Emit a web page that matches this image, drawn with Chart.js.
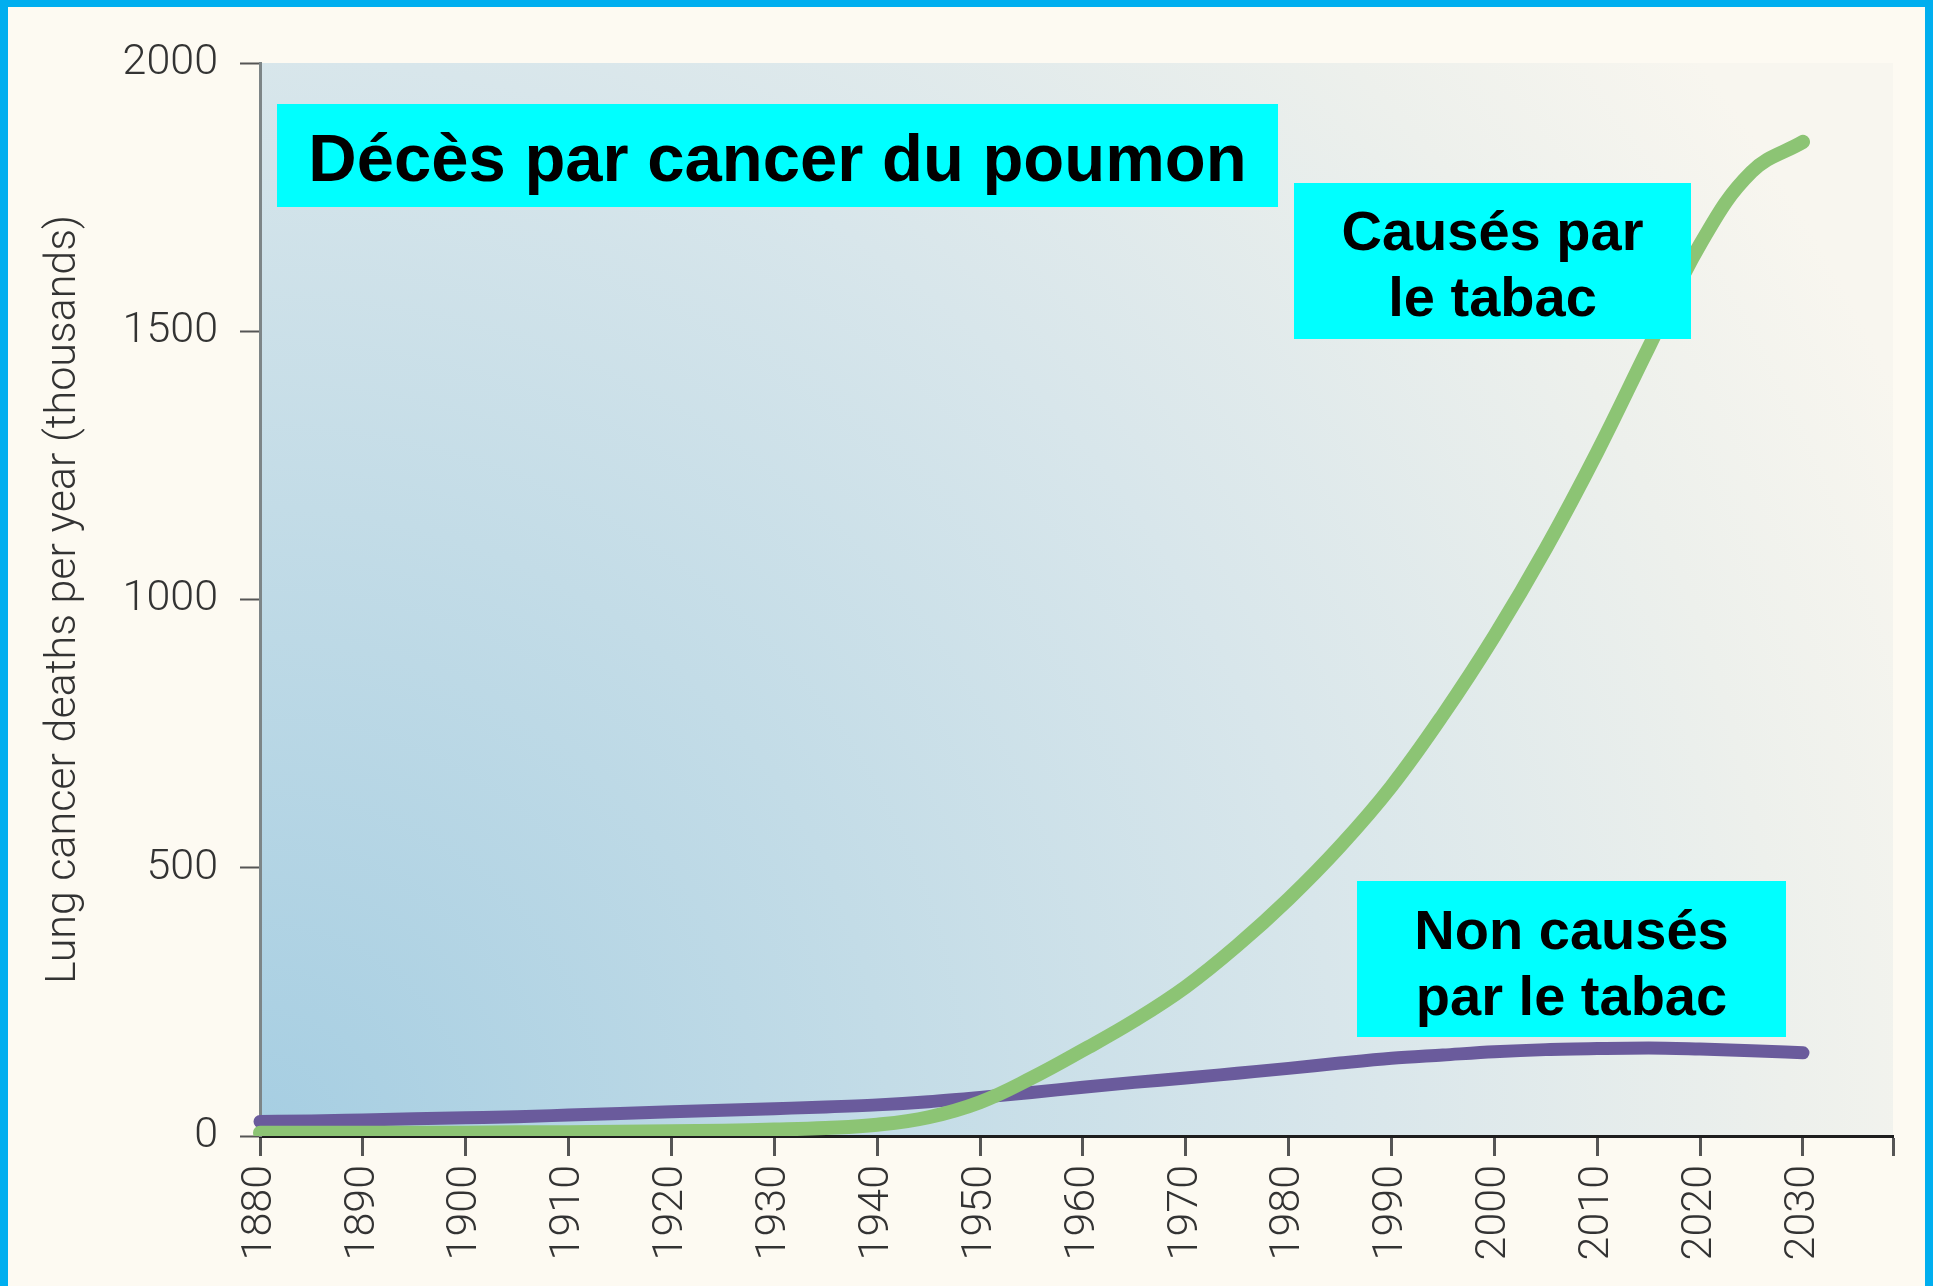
<!DOCTYPE html>
<html>
<head>
<meta charset="utf-8">
<script src="https://cdn.jsdelivr.net/npm/chart.js@4.4.1/dist/chart.umd.min.js"></script>
<style>
html,body{margin:0;padding:0;background:#fdfaf2;overflow:hidden}
#wrap{position:relative;width:1933px;height:1286px}
canvas{display:block}
</style>
</head>
<body>
<div id="wrap"><canvas id="c" width="1933" height="1286"></canvas></div>
<script>
// ---- data (thousands of deaths per year) ----
const years = [1880,1885,1890,1895,1900,1905,1910,1915,1920,1925,1930,1935,1940,1945,1950,1955,1960,1965,1970,1975,1980,1985,1990,1995,2000,2005,2010,2015,2020,2025,2030];
const tobaccoDeaths = [6,6,6,6,6,7,7,8,9,10,12,15,21,35,63,108,160,215,278,355,442,540,652,785,932,1095,1275,1470,1662,1797,1853];
const nonTobaccoDeaths = [27,28,30,32,34,36,39,42,45,48,51,54,58,64,72,81,91,100,108,117,126,136,145,151,157,161,163,164,162,159,155];
const yTickValues = [0,500,1000,1500,2000];
const xTickYears = [1880,1890,1900,1910,1920,1930,1940,1950,1960,1970,1980,1990,2000,2010,2020,2030];
const xAxisEnd = 2038.75;
const chartTitle = 'Décès par cancer du poumon';
const tobaccoLabel = ['Causés par','le tabac'];
const nonTobaccoLabel = ['Non causés','par le tabac'];
const yAxisTitle = 'Lung cancer deaths per year (thousands)';

const toPoints = (xs, ys) => xs.map((x, i) => ({x: x, y: ys[i]}));

const axisFont = {family: 'Roboto, "Liberation Sans", sans-serif', size: 43, weight: 300};

const backgroundPlugin = {
  id: 'bg',
  beforeDraw(chart) {
    const ctx = chart.ctx, W = chart.width, H = chart.height, ca = chart.chartArea;
    ctx.save();
    ctx.fillStyle = '#fdfaf2';
    ctx.fillRect(0, 0, W, H);
    // plot area gradient
    const r = Math.hypot(ca.right - ca.left, ca.bottom - ca.top) * 0.92;
    const g = ctx.createRadialGradient(ca.left, ca.bottom, 0, ca.left, ca.bottom, r);
    g.addColorStop(0, '#a6cee2');
    g.addColorStop(0.35, '#c3dce7');
    g.addColorStop(0.6, '#d8e6eb');
    g.addColorStop(0.85, '#edf0ec');
    g.addColorStop(1, '#f8f6ef');
    ctx.fillStyle = g;
    ctx.fillRect(ca.left, ca.top, ca.right - ca.left, ca.bottom - ca.top);
    // frame
    ctx.fillStyle = '#00aeef';
    ctx.fillRect(0, 0, W, 7);
    ctx.fillRect(0, 0, 8, H);
    ctx.fillRect(W - 8, 0, 8, H);
    ctx.restore();
  }
};

function drawBox(ctx, box) {
  ctx.save();
  ctx.fillStyle = '#00ffff';
  ctx.fillRect(box.x, box.y, box.w, box.h);
  ctx.fillStyle = '#000';
  ctx.font = 'bold ' + box.size + 'px "Liberation Sans", Arial, sans-serif';
  ctx.textAlign = 'center';
  ctx.textBaseline = 'alphabetic';
  box.lines.forEach((t, i) => ctx.fillText(t, box.x + box.w / 2, box.base + i * box.lh));
  ctx.restore();
}

const labelPlugin = {
  id: 'labels',
  afterDraw(chart) {
    const ctx = chart.ctx;
    drawBox(ctx, {x: 277, y: 104, w: 1001, h: 103, size: 67, lines: [chartTitle], base: 181, lh: 0});
    drawBox(ctx, {x: 1294, y: 183, w: 397, h: 156, size: 56, lines: tobaccoLabel, base: 250, lh: 66});
    drawBox(ctx, {x: 1357, y: 881, w: 429, h: 156, size: 56, lines: nonTobaccoLabel, base: 949, lh: 66});
  }
};

new Chart(document.getElementById('c'), {
  type: 'line',
  data: {
    datasets: [
      {
        label: tobaccoLabel.join(' '),
        data: toPoints(years, tobaccoDeaths),
        borderColor: '#8cc474',
        borderWidth: 14,
        pointRadius: 0,
        tension: 0.4,
        borderCapStyle: 'round',
        borderJoinStyle: 'round',
        clip: {left: 10, top: 10, right: 10, bottom: 0},
        fill: false
      },
      {
        label: nonTobaccoLabel.join(' '),
        data: toPoints(years, nonTobaccoDeaths),
        borderColor: '#6a5b9c',
        borderWidth: 13,
        pointRadius: 0,
        cubicInterpolationMode: 'monotone',
        borderCapStyle: 'round',
        borderJoinStyle: 'round',
        clip: {left: 10, top: 10, right: 10, bottom: 0},
        fill: false
      }
    ]
  },
  options: {
    responsive: false,
    animation: false,
    devicePixelRatio: 1,
    layout: {padding: {top: 63, right: 40, bottom: 0, left: 0}},
    plugins: {legend: {display: false}, tooltip: {enabled: false}},
    scales: {
      x: {
        type: 'linear',
        min: 1880,
        max: xAxisEnd,
        afterBuildTicks: s => { s.ticks = xTickYears.concat([xAxisEnd]).map(v => ({value: v})); },
        afterFit: s => { s.height = 150; s.paddingRight = 0; s.paddingLeft = 0; },
        ticks: {
          autoSkip: false,
          minRotation: 90,
          maxRotation: 90,
          padding: 9,
          color: '#333',
          font: axisFont,
          callback: v => xTickYears.includes(v) ? String(v) : ''
        },
        grid: {drawOnChartArea: false, drawTicks: true, tickLength: 20, tickColor: '#555', tickWidth: 3},
        border: {display: true, color: '#1e1e1e', width: 3}
      },
      y: {
        type: 'linear',
        min: 0,
        max: 2000,
        afterBuildTicks: s => { s.ticks = yTickValues.map(v => ({value: v})); },
        afterFit: s => { s.width = 260; },
        ticks: {
          padding: 22,
          color: '#333',
          font: axisFont,
          callback: v => String(v)
        },
        grid: {drawOnChartArea: false, drawTicks: true, tickLength: 20, tickColor: '#555', tickWidth: 2},
        border: {display: true, color: '#7d8587', width: 3},
        title: {
          display: true,
          text: yAxisTitle,
          color: '#333',
          font: axisFont,
          padding: {top: 38, bottom: 0}
        }
      }
    }
  },
  plugins: [backgroundPlugin, labelPlugin]
});
</script>
</body>
</html>
